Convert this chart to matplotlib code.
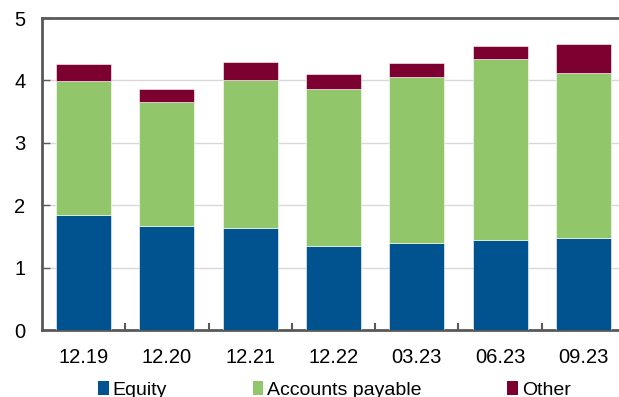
import numpy as np
import matplotlib
matplotlib.use("Agg")
import matplotlib.pyplot as plt
from matplotlib.patches import Patch

plt.rcParams['font.family'] = ['Liberation Sans', 'DejaVu Sans']

# data
periods = ['12.19', '12.20', '12.21', '12.22', '03.23', '06.23', '09.23']
equity = [1.85, 1.67, 1.64, 1.35, 1.39, 1.44, 1.47]
payable = [2.14, 1.98, 2.36, 2.52, 2.66, 2.91, 2.65]
other = [0.27, 0.22, 0.29, 0.23, 0.23, 0.20, 0.47]
series_names = ['Equity', 'Accounts payable', 'Other']
colors = ['#00538f', '#92c66a', '#7c0030']

W, H = 619, 397
fig = plt.figure(figsize=(W/100, H/100), dpi=100)
# axes is a bit wider than the picture, the right side is cut off in the original
ax = fig.add_axes([42/W, (H-330)/H, 583/W, 312/H])

x = np.arange(len(periods))
bottom = np.zeros(len(periods))
for vals, col in zip([equity, payable, other], colors):
    ax.bar(x, vals, 0.66, bottom=bottom, color=col, edgecolor='white', linewidth=0.4, zorder=3)
    bottom += np.array(vals)

ax.set_xlim(-0.5, len(periods) - 0.5)
ax.set_ylim(0, 5)
ax.set_yticks(range(6))
ax.yaxis.grid(True, color='#d9d9d9', linewidth=1, zorder=0)

ax.set_xticks(x)
ax.set_xticklabels(periods)
ax.set_xticks(x[:-1] + 0.5, minor=True)
ax.tick_params(axis='x', which='major', length=0, pad=13, labelsize=14.5)
ax.tick_params(axis='x', which='minor', direction='in', length=5, width=1.5, color='#595959')
ax.tick_params(axis='y', direction='in', length=6, width=1, color='#595959', pad=12, labelsize=14.5)

for side in ['left', 'bottom', 'top']:
    ax.spines[side].set_color('#595959')
    ax.spines[side].set_linewidth(2)
ax.spines['right'].set_visible(False)

# legend sits at the bottom edge, partly cut off like in the original
handles = [Patch(facecolor=c, edgecolor='none') for c in colors]
fig.legend(handles, series_names, loc='center left', bbox_to_anchor=(98/W, 1 - 390/H),
           ncol=3, frameon=False, fontsize=14, borderpad=0, borderaxespad=0,
           handlelength=0.55, handleheight=0.75, handletextpad=0.2, columnspacing=4.4)

plt.savefig('out.png', dpi=100)
